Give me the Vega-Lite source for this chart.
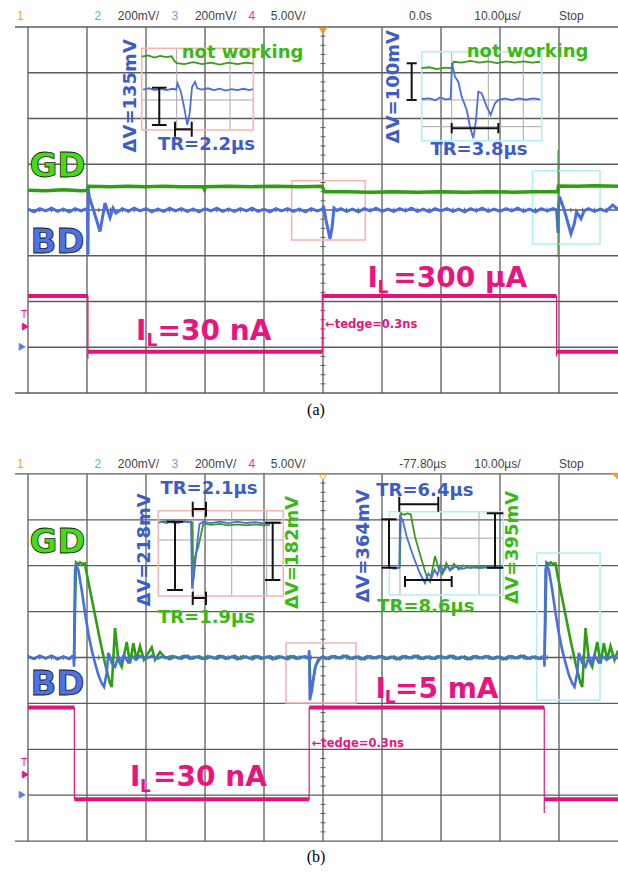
{
"$schema":"https://vega.github.io/schema/vega-lite/v6.json",
"width":618,"height":873,"padding":0,"autosize":"none","background":"white",
"config":{"view":{"stroke":null}},
"datasets":{
"vgrid":[{"t":-50},{"t":-40},{"t":-30},{"t":-20},{"t":-10},{"t":0},{"t":10},{"t":20},{"t":30},{"t":40}],
"hgrid":[{"v":-4,"t1":-52.2},{"v":-3,"t1":-50},{"v":-2,"t1":-50},{"v":-1,"t1":-50},{"v":0,"t1":-50},{"v":1,"t1":-50},{"v":2,"t1":-50},{"v":3,"t1":-50},{"v":4,"t1":-52.2}],
"ctv":[{"v":-3.8},{"v":-3.6},{"v":-3.4},{"v":-3.2},{"v":-2.8},{"v":-2.6},{"v":-2.4},{"v":-2.2},{"v":-1.8},{"v":-1.6},{"v":-1.4},{"v":-1.2},{"v":-0.8},{"v":-0.6},{"v":-0.4},{"v":-0.2},{"v":0.2},{"v":0.4},{"v":0.6},{"v":0.8},{"v":1.2},{"v":1.4},{"v":1.6},{"v":1.8},{"v":2.2},{"v":2.4},{"v":2.6},{"v":2.8},{"v":3.2},{"v":3.4},{"v":3.6},{"v":3.8}],
"cth":[{"t":-48},{"t":-46},{"t":-44},{"t":-42},{"t":-38},{"t":-36},{"t":-34},{"t":-32},{"t":-28},{"t":-26},{"t":-24},{"t":-22},{"t":-18},{"t":-16},{"t":-14},{"t":-12},{"t":-8},{"t":-6},{"t":-4},{"t":-2},{"t":2},{"t":4},{"t":6},{"t":8},{"t":12},{"t":14},{"t":16},{"t":18},{"t":22},{"t":24},{"t":26},{"t":28},{"t":32},{"t":34},{"t":36},{"t":38},{"t":42},{"t":44},{"t":46},{"t":48}],
"a_gd":[{"t":-50,"v":0.43},{"t":-47,"v":0.42},{"t":-44,"v":0.44},{"t":-41,"v":0.42},{"t":-39.86,"v":0.43},{"t":-39.8,"v":0.52},{"t":-36,"v":0.51},{"t":-33,"v":0.52},{"t":-30,"v":0.51},{"t":-27,"v":0.52},{"t":-24,"v":0.51},{"t":-20.3,"v":0.51},{"t":-20.1,"v":0.45},{"t":-19.9,"v":0.51},{"t":-16,"v":0.52},{"t":-12,"v":0.51},{"t":-8,"v":0.52},{"t":-4,"v":0.51},{"t":-0.15,"v":0.52},{"t":0.25,"v":0.4},{"t":4,"v":0.4},{"t":8,"v":0.39},{"t":12,"v":0.4},{"t":16,"v":0.39},{"t":20,"v":0.4},{"t":24,"v":0.39},{"t":28,"v":0.4},{"t":32,"v":0.39},{"t":36,"v":0.4},{"t":39.78,"v":0.4},{"t":39.9,"v":0.525},{"t":43,"v":0.52},{"t":46,"v":0.53},{"t":50,"v":0.52}],
"a_bd":[{"t":-50,"v":0.02},{"t":-49,"v":-0.04},{"t":-48,"v":0.03},{"t":-47,"v":-0.02},{"t":-46,"v":0.04},{"t":-45,"v":-0.03},{"t":-44,"v":0.02},{"t":-43,"v":-0.04},{"t":-42,"v":0.03},{"t":-41,"v":-0.02},{"t":-40.3,"v":0.02},{"t":-39.92,"v":0},{"t":-39.83,"v":-0.98},{"t":-39.78,"v":0.44},{"t":-39.61,"v":0.29},{"t":-38.64,"v":-0.11},{"t":-37.8,"v":-0.47},{"t":-36.95,"v":0.15},{"t":-36.1,"v":-0.17},{"t":-35.59,"v":0.04},{"t":-35.08,"v":-0.07},{"t":-34,"v":0.03},{"t":-33,"v":-0.03},{"t":-32,"v":0.04},{"t":-31,"v":-0.02},{"t":-30,"v":0.03},{"t":-29,"v":-0.04},{"t":-28,"v":0.02},{"t":-27,"v":-0.03},{"t":-26,"v":0.04},{"t":-25,"v":-0.02},{"t":-24,"v":0.03},{"t":-23,"v":-0.03},{"t":-22,"v":0.02},{"t":-21,"v":-0.04},{"t":-20,"v":0.03},{"t":-19,"v":-0.02},{"t":-18,"v":0.04},{"t":-17,"v":-0.03},{"t":-16,"v":0.02},{"t":-15,"v":-0.03},{"t":-14,"v":0.03},{"t":-13,"v":-0.02},{"t":-12,"v":0.04},{"t":-11,"v":-0.03},{"t":-10,"v":0.02},{"t":-9,"v":-0.04},{"t":-8,"v":0.03},{"t":-7,"v":-0.02},{"t":-6,"v":0.03},{"t":-5,"v":-0.03},{"t":-4,"v":0.02},{"t":-3,"v":-0.04},{"t":-2,"v":0.03},{"t":-1,"v":-0.02},{"t":-0.3,"v":0.01},{"t":-0.08,"v":0},{"t":0.08,"v":0.09},{"t":0.51,"v":-0.22},{"t":1.19,"v":-0.63},{"t":1.53,"v":-0.39},{"t":1.86,"v":0.04},{"t":2.37,"v":-0.01},{"t":3,"v":0.03},{"t":4,"v":-0.03},{"t":5,"v":0.02},{"t":6,"v":-0.04},{"t":7,"v":0.03},{"t":8,"v":-0.02},{"t":9,"v":0.04},{"t":10,"v":-0.03},{"t":11,"v":0.02},{"t":12,"v":-0.03},{"t":13,"v":0.03},{"t":14,"v":-0.02},{"t":15,"v":0.04},{"t":16,"v":-0.03},{"t":17,"v":0.02},{"t":18,"v":-0.04},{"t":19,"v":0.03},{"t":20,"v":-0.02},{"t":21,"v":0.03},{"t":22,"v":-0.03},{"t":23,"v":0.02},{"t":24,"v":-0.04},{"t":25,"v":0.03},{"t":26,"v":-0.02},{"t":27,"v":0.04},{"t":28,"v":-0.03},{"t":29,"v":0.02},{"t":30,"v":-0.03},{"t":31,"v":0.03},{"t":32,"v":-0.02},{"t":33,"v":0.04},{"t":34,"v":-0.03},{"t":35,"v":0.02},{"t":36,"v":-0.04},{"t":37,"v":0.03},{"t":38,"v":-0.02},{"t":39,"v":0.03},{"t":39.6,"v":0},{"t":39.84,"v":-0.5},{"t":39.88,"v":0},{"t":40.1,"v":0.29},{"t":40.9,"v":0},{"t":42.03,"v":-0.52},{"t":42.59,"v":-0.3},{"t":42.97,"v":-0.04},{"t":43.73,"v":-0.19},{"t":44.24,"v":-0.02},{"t":45,"v":0.03},{"t":46,"v":-0.03},{"t":47,"v":0.02},{"t":48,"v":-0.03},{"t":49.1,"v":0.11},{"t":50,"v":0.01}],
"a_ilh":[{"t1":-50,"t2":-39.84,"v":-1.88},{"t1":-39.84,"t2":-0.12,"v":-3.1},{"t1":-0.12,"t2":39.6,"v":-1.88},{"t1":39.6,"t2":50,"v":-3.1}],
"a_ile":[{"t":-39.84,"v1":-1.88,"v2":-3.25},{"t":-0.12,"v1":-3.1,"v2":-1.8},{"t":39.6,"v1":-1.88,"v2":-3.2}],
"a_glitch":[{"t":39.83,"v1":1.31,"v2":-1.03}],
"a_igd":[{"inset":1,"t":-30.73,"v":3.35},{"inset":1,"t":-29.6,"v":3.38},{"inset":1,"t":-28.6,"v":3.33},{"inset":1,"t":-27.6,"v":3.37},{"inset":1,"t":-26.6,"v":3.34},{"inset":1,"t":-25.64,"v":3.36},{"inset":1,"t":-25.2,"v":3.26},{"inset":1,"t":-24.8,"v":3.21},{"inset":1,"t":-23.5,"v":3.19},{"inset":1,"t":-22,"v":3.23},{"inset":1,"t":-20.5,"v":3.19},{"inset":1,"t":-19,"v":3.22},{"inset":1,"t":-17.5,"v":3.18},{"inset":1,"t":-16,"v":3.22},{"inset":1,"t":-14.5,"v":3.19},{"inset":1,"t":-13,"v":3.22},{"inset":1,"t":-11.81,"v":3.2},
{"inset":2,"t":16.73,"v":3.1},{"inset":2,"t":18,"v":3.12},{"inset":2,"t":19.3,"v":3.08},{"inset":2,"t":20.6,"v":3.11},{"inset":2,"t":21.7,"v":3.1},{"inset":2,"t":22.15,"v":3.24},{"inset":2,"t":23.5,"v":3.22},{"inset":2,"t":25,"v":3.26},{"inset":2,"t":26.5,"v":3.22},{"inset":2,"t":28,"v":3.25},{"inset":2,"t":29.5,"v":3.21},{"inset":2,"t":31,"v":3.25},{"inset":2,"t":32.5,"v":3.22},{"inset":2,"t":34,"v":3.25},{"inset":2,"t":35.5,"v":3.22},{"inset":2,"t":36.78,"v":3.24}],
"a_ibd":[{"inset":1,"t":-30.5,"v":2.63},{"inset":1,"t":-29.5,"v":2.66},{"inset":1,"t":-28.5,"v":2.62},{"inset":1,"t":-27.5,"v":2.65},{"inset":1,"t":-26.5,"v":2.62},{"inset":1,"t":-25.5,"v":2.65},{"inset":1,"t":-24.9,"v":2.63},{"inset":1,"t":-24.66,"v":2.77},{"inset":1,"t":-24.1,"v":2.59},{"inset":1,"t":-23.5,"v":2.22},{"inset":1,"t":-23,"v":1.86},{"inset":1,"t":-22.6,"v":2.11},{"inset":1,"t":-22.2,"v":2.69},{"inset":1,"t":-21.69,"v":2.8},{"inset":1,"t":-21.3,"v":2.66},{"inset":1,"t":-20.5,"v":2.63},{"inset":1,"t":-19.5,"v":2.66},{"inset":1,"t":-18.5,"v":2.62},{"inset":1,"t":-17.5,"v":2.65},{"inset":1,"t":-16.5,"v":2.61},{"inset":1,"t":-15.5,"v":2.64},{"inset":1,"t":-14.5,"v":2.62},{"inset":1,"t":-13.5,"v":2.65},{"inset":1,"t":-12.5,"v":2.62},{"inset":1,"t":-11.9,"v":2.64},
{"inset":2,"t":16.73,"v":2.426},{"inset":2,"t":18,"v":2.44},{"inset":2,"t":19,"v":2.4},{"inset":2,"t":19.83,"v":2.46},{"inset":2,"t":20.8,"v":2.42},{"inset":2,"t":21.63,"v":2.426},{"inset":2,"t":21.86,"v":3.207},{"inset":2,"t":22.37,"v":2.914},{"inset":2,"t":22.93,"v":2.804},{"inset":2,"t":23.51,"v":2.477},{"inset":2,"t":24.36,"v":2.186},{"inset":2,"t":24.92,"v":1.821},{"inset":2,"t":25.47,"v":1.567},{"inset":2,"t":25.93,"v":1.967},{"inset":2,"t":26.32,"v":2.586},{"inset":2,"t":26.9,"v":2.551},{"inset":2,"t":27.75,"v":2.258},{"inset":2,"t":28.42,"v":2.077},{"inset":2,"t":29.15,"v":2.332},{"inset":2,"t":29.71,"v":2.404},{"inset":2,"t":30.8,"v":2.44},{"inset":2,"t":32,"v":2.4},{"inset":2,"t":33.2,"v":2.44},{"inset":2,"t":34.4,"v":2.41},{"inset":2,"t":35.6,"v":2.44},{"inset":2,"t":36.78,"v":2.42}],
"a_bars":[{"t1":-27.75,"v1":2.673,"t2":-27.75,"v2":1.858},{"t1":-29,"v1":2.673,"t2":-26.5,"v2":2.673},{"t1":-29,"v1":1.858,"t2":-26.5,"v2":1.858},{"t1":-25.08,"v1":1.764,"t2":-22.25,"v2":1.764},{"t1":-25.08,"v1":1.93,"t2":-25.08,"v2":1.6},{"t1":-22.25,"v1":1.93,"t2":-22.25,"v2":1.6},{"t1":15.03,"v1":3.207,"t2":15.03,"v2":2.404},{"t1":14.18,"v1":3.207,"t2":15.88,"v2":3.207},{"t1":14.18,"v1":2.404,"t2":15.88,"v2":2.404},{"t1":21.81,"v1":1.786,"t2":29.71,"v2":1.786},{"t1":21.81,"v1":1.902,"t2":21.81,"v2":1.677},{"t1":29.71,"v1":1.902,"t2":29.71,"v2":1.677}],
"a_inner":[{"t1":-24.8,"v1":3.534,"t2":-24.8,"v2":1.749},{"t1":-15.76,"v1":3.534,"t2":-15.76,"v2":1.749},{"t1":-30.73,"v1":2.404,"t2":-11.81,"v2":2.404},{"t1":21.81,"v1":3.46,"t2":21.81,"v2":1.515},{"t1":28.02,"v1":3.46,"t2":28.02,"v2":1.515},{"t1":33.95,"v1":3.46,"t2":33.95,"v2":1.515},{"t1":16.73,"v1":2.404,"t2":37.07,"v2":2.404},{"t1":16.73,"v1":1.821,"t2":37.07,"v2":1.821}],
"a_boxes":[{"inset":1,"t1":-30.73,"v1":3.534,"t2":-11.81,"v2":1.749},{"inset":1,"t1":-5.31,"v1":0.64,"t2":7.17,"v2":-0.656},{"inset":2,"t1":16.73,"v1":3.46,"t2":37.07,"v2":1.515},{"inset":2,"t1":35.51,"v1":0.859,"t2":46.95,"v2":-0.743}],
"a_lbl":[{"ch":"GD","text":"GD","t":-45,"v":0.93},{"ch":"BD","text":"BD","t":-45,"v":-0.73}],
"a_ilbig":[{"text":"I","t":-31.69,"v":-2.842},{"text":"=30 nA","t":-28.03,"v":-2.842},{"text":"I","t":7.54,"v":-1.677},{"text":"=300 µA","t":11.92,"v":-1.677}],
"a_ilsub":[{"text":"L","t":-29.9,"v":-2.973},{"text":"L","t":9.24,"v":-1.821}],
"a_tr":[{"ch":"BD","text":"TR=2.2µs","t":-19.75,"v":1.421},{"ch":"BD","text":"TR=3.8µs","t":26.44,"v":1.311}],
"a_nw":[{"text":"not working","t":-23.95,"v":3.425},{"text":"not working","t":24.36,"v":3.46}],
"a_rot":[{"ch":"BD","text":"ΔV=135mV","t":-32.49,"v":2.496},{"ch":"BD","text":"ΔV=100mV","t":12.03,"v":2.695}],
"a_tedge":[{"text":"←tedge=0.3ns","t":0.34,"v":-2.514}],
"a_head":[{"c":"1","text":"1","t":-51.86,"v":4.24},{"c":"2","text":"2","t":-38.73,"v":4.24},{"c":"x","text":"200mV/","t":-34.78,"v":4.24},{"c":"3","text":"3","t":-25.68,"v":4.24},{"c":"x","text":"200mV/","t":-21.71,"v":4.24},{"c":"4","text":"4","t":-12.63,"v":4.24},{"c":"x","text":"5.00V/","t":-8.85,"v":4.24},{"c":"x","text":"0.0s","t":14.58,"v":4.24},{"c":"x","text":"10.00µs/","t":25.64,"v":4.24},{"c":"x","text":"Stop","t":40,"v":4.24}],
"a_cap":[{"text":"(a)","t":-1.19,"v":-4.372}],
"a_T":[{"text":"T","t":-50.68,"v":-2.3}],
"a_mk":[{"m":"trig","t":0,"v":3.91},{"m":"T","t":-50.46,"v":-2.55},{"m":"gnd","t":-51,"v":-2.99}],
"b_gd":[{"t":-50,"v":0.02},{"t":-49,"v":-0.03},{"t":-48,"v":0.03},{"t":-47,"v":-0.02},{"t":-46,"v":0.04},{"t":-45,"v":-0.03},{"t":-44,"v":0.02},{"t":-43,"v":-0.03},{"t":-42.5,"v":0.02},{"t":-42.2,"v":0},{"t":-41.86,"v":2.07},{"t":-41.5,"v":2.03},{"t":-41.19,"v":2.07},{"t":-40.8,"v":2.04},{"t":-40.34,"v":2.05},{"t":-40.05,"v":1.83},{"t":-38.93,"v":1.11},{"t":-37.8,"v":0.38},{"t":-36.95,"v":-0.13},{"t":-36.1,"v":-0.56},{"t":-35.81,"v":-0.64},{"t":-35.25,"v":0.64},{"t":-34.69,"v":-0.05},{"t":-34.12,"v":-0.2},{"t":-33.27,"v":0.34},{"t":-32.71,"v":-0.13},{"t":-32.15,"v":0.31},{"t":-31.58,"v":-0.05},{"t":-31.02,"v":0.25},{"t":-30.34,"v":-0.05},{"t":-29.03,"v":0.22},{"t":-28.47,"v":-0.05},{"t":-27.63,"v":0.12},{"t":-26.78,"v":-0.01},{"t":-25.5,"v":0.03},{"t":-24.5,"v":-0.02},{"t":-23.5,"v":0.04},{"t":-22.5,"v":-0.03},{"t":-21.5,"v":0.02},{"t":-20.5,"v":-0.03},{"t":-19.5,"v":0.03},{"t":-18.5,"v":-0.02},{"t":-17.5,"v":0.04},{"t":-16.5,"v":-0.03},{"t":-15.5,"v":0.02},{"t":-14.5,"v":-0.04},{"t":-13.5,"v":0.03},{"t":-12.5,"v":-0.02},{"t":-11.5,"v":0.03},{"t":-10.5,"v":-0.03},{"t":-9.5,"v":0.02},{"t":-8.5,"v":-0.04},{"t":-7.5,"v":0.03},{"t":-6.5,"v":-0.02},{"t":-5.5,"v":0.03},{"t":-4.5,"v":-0.03},{"t":-3.5,"v":0.02},{"t":-2.6,"v":-0.02},{"t":-2.29,"v":0},{"t":-2.12,"v":-0.75},{"t":-1.69,"v":-0.49},{"t":-1.19,"v":-0.16},{"t":-0.51,"v":-0.03},{"t":0,"v":0.02},{"t":1,"v":-0.03},{"t":2,"v":0.03},{"t":3,"v":-0.02},{"t":4,"v":0.04},{"t":5,"v":-0.03},{"t":6,"v":0.02},{"t":7,"v":-0.04},{"t":8,"v":0.03},{"t":9,"v":-0.02},{"t":10,"v":0.03},{"t":11,"v":-0.03},{"t":12,"v":0.02},{"t":13,"v":-0.04},{"t":14,"v":0.03},{"t":15,"v":-0.02},{"t":16,"v":0.04},{"t":17,"v":-0.03},{"t":18,"v":0.02},{"t":19,"v":-0.03},{"t":20,"v":0.03},{"t":21,"v":-0.02},{"t":22,"v":0.04},{"t":23,"v":-0.03},{"t":24,"v":0.02},{"t":25,"v":-0.04},{"t":26,"v":0.03},{"t":27,"v":-0.02},{"t":28,"v":0.03},{"t":29,"v":-0.03},{"t":30,"v":0.02},{"t":31,"v":-0.04},{"t":32,"v":0.03},{"t":33,"v":-0.02},{"t":34,"v":0.04},{"t":35,"v":-0.03},{"t":36,"v":0.02},{"t":37,"v":-0.03},{"t":37.4,"v":0.01},{"t":37.55,"v":0},{"t":37.89,"v":2.07},{"t":38.3,"v":2.03},{"t":38.56,"v":2.07},{"t":39,"v":2.04},{"t":39.41,"v":2.05},{"t":39.7,"v":1.83},{"t":40.82,"v":1.11},{"t":41.95,"v":0.38},{"t":42.8,"v":-0.13},{"t":43.65,"v":-0.56},{"t":43.94,"v":-0.64},{"t":44.5,"v":0.64},{"t":45.06,"v":-0.05},{"t":45.63,"v":-0.2},{"t":46.48,"v":0.34},{"t":47.04,"v":-0.13},{"t":47.6,"v":0.31},{"t":48.17,"v":-0.05},{"t":48.73,"v":0.25},{"t":49.41,"v":-0.05},{"t":50,"v":0.15}],
"b_bd":[{"t":-50,"v":0.03},{"t":-49,"v":-0.03},{"t":-48,"v":0.04},{"t":-47,"v":-0.02},{"t":-46,"v":0.03},{"t":-45,"v":-0.04},{"t":-44,"v":0.02},{"t":-43,"v":-0.03},{"t":-42.6,"v":0.02},{"t":-42.29,"v":0},{"t":-42.2,"v":-0.2},{"t":-42.03,"v":1.91},{"t":-41.86,"v":2.02},{"t":-41.47,"v":1.91},{"t":-40.9,"v":1.47},{"t":-40.34,"v":0.97},{"t":-39.78,"v":0.53},{"t":-39.2,"v":0.16},{"t":-38.64,"v":-0.12},{"t":-38.08,"v":-0.38},{"t":-37.51,"v":-0.56},{"t":-37.12,"v":-0.64},{"t":-36.66,"v":-0.34},{"t":-36.39,"v":0.1},{"t":-35.81,"v":-0.12},{"t":-35.25,"v":-0.2},{"t":-34.69,"v":0.02},{"t":-34.29,"v":-0.12},{"t":-33.73,"v":0.05},{"t":-33.05,"v":-0.1},{"t":-32.37,"v":0.03},{"t":-31.69,"v":-0.05},{"t":-31,"v":0.03},{"t":-30,"v":-0.03},{"t":-29,"v":0.04},{"t":-28,"v":-0.02},{"t":-27,"v":0.03},{"t":-26,"v":-0.04},{"t":-25,"v":0.02},{"t":-24,"v":-0.03},{"t":-23,"v":0.04},{"t":-22,"v":-0.02},{"t":-21,"v":0.03},{"t":-20,"v":-0.04},{"t":-19,"v":0.02},{"t":-18,"v":-0.03},{"t":-17,"v":0.03},{"t":-16,"v":-0.02},{"t":-15,"v":0.04},{"t":-14,"v":-0.03},{"t":-13,"v":0.02},{"t":-12,"v":-0.04},{"t":-11,"v":0.03},{"t":-10,"v":-0.02},{"t":-9,"v":0.03},{"t":-8,"v":-0.03},{"t":-7,"v":0.02},{"t":-6,"v":-0.04},{"t":-5,"v":0.03},{"t":-4,"v":-0.02},{"t":-3,"v":0.03},{"t":-2.6,"v":-0.01},{"t":-2.46,"v":0},{"t":-2.32,"v":0.16},{"t":-2.24,"v":-0.93},{"t":-1.86,"v":-0.71},{"t":-1.36,"v":-0.23},{"t":-0.85,"v":-0.05},{"t":-0.17,"v":0.01},{"t":0.5,"v":-0.03},{"t":1.5,"v":0.03},{"t":2.5,"v":-0.02},{"t":3.5,"v":0.04},{"t":4.5,"v":-0.03},{"t":5.5,"v":0.02},{"t":6.5,"v":-0.04},{"t":7.5,"v":0.03},{"t":8.5,"v":-0.02},{"t":9.5,"v":0.03},{"t":10.5,"v":-0.03},{"t":11.5,"v":0.02},{"t":12.5,"v":-0.04},{"t":13.5,"v":0.03},{"t":14.5,"v":-0.02},{"t":15.5,"v":0.04},{"t":16.5,"v":-0.03},{"t":17.5,"v":0.02},{"t":18.5,"v":-0.03},{"t":19.5,"v":0.03},{"t":20.5,"v":-0.02},{"t":21.5,"v":0.04},{"t":22.5,"v":-0.03},{"t":23.5,"v":0.02},{"t":24.5,"v":-0.04},{"t":25.5,"v":0.03},{"t":26.5,"v":-0.02},{"t":27.5,"v":0.03},{"t":28.5,"v":-0.03},{"t":29.5,"v":0.02},{"t":30.5,"v":-0.04},{"t":31.5,"v":0.03},{"t":32.5,"v":-0.02},{"t":33.5,"v":0.04},{"t":34.5,"v":-0.03},{"t":35.5,"v":0.02},{"t":36.5,"v":-0.03},{"t":37.2,"v":0.02},{"t":37.46,"v":0},{"t":37.55,"v":-0.2},{"t":37.72,"v":1.91},{"t":37.89,"v":2.02},{"t":38.28,"v":1.91},{"t":38.85,"v":1.47},{"t":39.41,"v":0.97},{"t":39.97,"v":0.53},{"t":40.55,"v":0.16},{"t":41.11,"v":-0.12},{"t":41.67,"v":-0.38},{"t":42.24,"v":-0.56},{"t":42.63,"v":-0.64},{"t":43.09,"v":-0.34},{"t":43.36,"v":0.1},{"t":43.94,"v":-0.12},{"t":44.5,"v":-0.2},{"t":45.06,"v":0.02},{"t":45.46,"v":-0.12},{"t":46.02,"v":0.05},{"t":46.7,"v":-0.1},{"t":47.38,"v":0.03},{"t":48.06,"v":-0.05},{"t":49,"v":0.03},{"t":50,"v":-0.02}],
"b_ilh":[{"t1":-50,"t2":-42.14,"v":-1.09},{"t1":-42.14,"t2":-2.34,"v":-3.09},{"t1":-2.34,"t2":37.5,"v":-1.09},{"t1":37.5,"t2":50,"v":-3.09}],
"b_ile":[{"t":-42.14,"v1":-1.09,"v2":-3.09},{"t":-2.34,"v1":-3.09,"v2":-1.09},{"t":37.5,"v1":-1.09,"v2":-3.39}],
"b_igd":[{"inset":1,"t":-27.9,"v":2.94},{"inset":1,"t":-26.5,"v":2.97},{"inset":1,"t":-25,"v":2.93},{"inset":1,"t":-23.5,"v":2.96},{"inset":1,"t":-22.2,"v":2.94},{"inset":1,"t":-21.98,"v":1.7},{"inset":1,"t":-21.69,"v":2.2},{"inset":1,"t":-21.14,"v":2.41},{"inset":1,"t":-20.29,"v":2.92},{"inset":1,"t":-19,"v":2.89},{"inset":1,"t":-17.5,"v":2.91},{"inset":1,"t":-16,"v":2.88},{"inset":1,"t":-14.5,"v":2.9},{"inset":1,"t":-13,"v":2.88},{"inset":1,"t":-11.5,"v":2.9},{"inset":1,"t":-10,"v":2.88},{"inset":1,"t":-9,"v":2.89},
{"inset":2,"t":11.3,"v":1.96},{"inset":2,"t":12.3,"v":1.94},{"inset":2,"t":13,"v":1.96},{"inset":2,"t":13.22,"v":3.14},{"inset":2,"t":13.8,"v":3.11},{"inset":2,"t":14.3,"v":3.14},{"inset":2,"t":14.86,"v":3.12},{"inset":2,"t":15.59,"v":2.63},{"inset":2,"t":16.73,"v":2.12},{"inset":2,"t":17.58,"v":1.76},{"inset":2,"t":18.14,"v":1.65},{"inset":2,"t":18.98,"v":2.21},{"inset":2,"t":19.6,"v":1.93},{"inset":2,"t":20.2,"v":1.82},{"inset":2,"t":20.9,"v":2.06},{"inset":2,"t":21.5,"v":1.9},{"inset":2,"t":22.2,"v":2.04},{"inset":2,"t":23,"v":1.92},{"inset":2,"t":23.8,"v":2.01},{"inset":2,"t":24.92,"v":1.95},{"inset":2,"t":26.61,"v":1.99},{"inset":2,"t":28.31,"v":1.95},{"inset":2,"t":30.51,"v":1.97}],
"b_ibd":[{"inset":1,"t":-27.5,"v":2.96},{"inset":1,"t":-26.5,"v":2.93},{"inset":1,"t":-25.5,"v":2.97},{"inset":1,"t":-24.5,"v":2.94},{"inset":1,"t":-23.5,"v":2.97},{"inset":1,"t":-22.6,"v":2.95},{"inset":1,"t":-22.37,"v":2.96},{"inset":1,"t":-22.2,"v":1.5},{"inset":1,"t":-21.86,"v":1.8},{"inset":1,"t":-21.36,"v":2.45},{"inset":1,"t":-20.93,"v":2.91},{"inset":1,"t":-20.3,"v":2.96},{"inset":1,"t":-19,"v":2.93},{"inset":1,"t":-17.5,"v":2.96},{"inset":1,"t":-16,"v":2.93},{"inset":1,"t":-14.5,"v":2.96},{"inset":1,"t":-13,"v":2.93},{"inset":1,"t":-11.5,"v":2.95},{"inset":1,"t":-10,"v":2.92},{"inset":1,"t":-8.5,"v":2.94},{"inset":1,"t":-7,"v":2.93},
{"inset":2,"t":11.3,"v":1.96},{"inset":2,"t":12.1,"v":1.94},{"inset":2,"t":12.93,"v":1.96},{"inset":2,"t":13.05,"v":3.07},{"inset":2,"t":13.5,"v":3},{"inset":2,"t":14.19,"v":2.63},{"inset":2,"t":15.31,"v":2.2},{"inset":2,"t":16.44,"v":1.83},{"inset":2,"t":17.29,"v":1.62},{"inset":2,"t":17.85,"v":1.83},{"inset":2,"t":18.4,"v":1.74},{"inset":2,"t":18.9,"v":1.91},{"inset":2,"t":19.4,"v":1.8},{"inset":2,"t":19.9,"v":2.02},{"inset":2,"t":20.4,"v":1.86},{"inset":2,"t":21,"v":1.99},{"inset":2,"t":21.7,"v":1.91},{"inset":2,"t":22.5,"v":1.99},{"inset":2,"t":23.5,"v":1.93},{"inset":2,"t":24.9,"v":1.97},{"inset":2,"t":26.6,"v":1.95},{"inset":2,"t":28.3,"v":1.97},{"inset":2,"t":30.5,"v":1.96}],
"b_bars":[{"t1":-25.08,"v1":2.959,"t2":-25.08,"v2":1.471},{"t1":-26.43,"v1":2.959,"t2":-23.73,"v2":2.959},{"t1":-26.43,"v1":1.471,"t2":-23.73,"v2":1.471},{"t1":-8.53,"v1":2.937,"t2":-8.53,"v2":1.688},{"t1":-9.83,"v1":2.937,"t2":-7.23,"v2":2.937},{"t1":-9.83,"v1":1.688,"t2":-7.23,"v2":1.688},{"t1":-22.08,"v1":3.235,"t2":-19.83,"v2":3.235},{"t1":-22.08,"v1":3.394,"t2":-22.08,"v2":3.068},{"t1":-19.83,"v1":3.394,"t2":-19.83,"v2":3.068},{"t1":-22.08,"v1":1.296,"t2":-19.83,"v2":1.296},{"t1":-22.08,"v1":1.434,"t2":-22.08,"v2":1.144},{"t1":-19.83,"v1":1.434,"t2":-19.83,"v2":1.144},{"t1":11.19,"v1":3.011,"t2":11.19,"v2":1.956},{"t1":9.92,"v1":3.011,"t2":12.46,"v2":3.011},{"t1":9.92,"v1":1.956,"t2":12.46,"v2":1.956},{"t1":29.15,"v1":3.142,"t2":29.15,"v2":1.956},{"t1":27.75,"v1":3.142,"t2":30.55,"v2":3.142},{"t1":27.75,"v1":1.956,"t2":30.55,"v2":1.956},{"t1":12.93,"v1":3.338,"t2":19.54,"v2":3.338},{"t1":12.93,"v1":3.503,"t2":12.93,"v2":3.176},{"t1":19.54,"v1":3.503,"t2":19.54,"v2":3.176},{"t1":13.9,"v1":1.688,"t2":21.81,"v2":1.688},{"t1":13.9,"v1":1.776,"t2":13.9,"v2":1.536},{"t1":21.81,"v1":1.776,"t2":21.81,"v2":1.536}],
"b_inner":[{"t1":-21.98,"v1":3.198,"t2":-21.98,"v2":1.34},{"t1":-15.47,"v1":3.198,"t2":-15.47,"v2":1.34},{"t1":-9.54,"v1":3.198,"t2":-9.54,"v2":1.34},{"t1":-27.92,"v1":2.56,"t2":-6.73,"v2":2.56},{"t1":13.05,"v1":3.176,"t2":13.05,"v2":1.362},{"t1":26.44,"v1":3.176,"t2":26.44,"v2":1.362},{"t1":11.24,"v1":2.6,"t2":30.56,"v2":2.6}],
"b_boxes":[{"inset":1,"t1":-27.92,"v1":3.198,"t2":-6.73,"v2":1.34},{"inset":1,"t1":-6.27,"v1":0.316,"t2":5.59,"v2":-0.991},{"inset":2,"t1":11.24,"v1":3.176,"t2":30.56,"v2":1.362},{"inset":2,"t1":36.22,"v1":2.277,"t2":46.95,"v2":-0.926}],
"b_lbl":[{"ch":"GD","text":"GD","t":-45,"v":2.5},{"ch":"BD","text":"BD","t":-45,"v":-0.6}],
"b_ilbig":[{"text":"I","t":-32.71,"v":-2.8},{"text":"=30 nA","t":-28.81,"v":-2.8},{"text":"I","t":8.9,"v":-0.889},{"text":"=5 mA","t":12.2,"v":-0.889}],
"b_ilsub":[{"text":"L","t":-31.02,"v":-2.93},{"text":"L","t":10.46,"v":-1.002}],
"b_tr":[{"ch":"BD","text":"TR=2.1µs","t":-19.32,"v":3.671},{"ch":"GD","text":"TR=1.9µs","t":-19.75,"v":0.861},{"ch":"BD","text":"TR=6.4µs","t":17.26,"v":3.634},{"ch":"GD","text":"TR=8.6µs","t":17.43,"v":1.107}],
"b_rot":[{"ch":"BD","text":"ΔV=218mV","t":-30.17,"v":2.342},{"ch":"GD","text":"ΔV=182mV","t":-5.03,"v":2.288},{"ch":"BD","text":"ΔV=364mV","t":6.95,"v":2.43},{"ch":"GD","text":"ΔV=395mV","t":32.25,"v":2.4}],
"b_tedge":[{"text":"←tedge=0.3ns","t":-1.92,"v":-1.885}],
"b_head":[{"c":"1","text":"1","t":-51.86,"v":4.216},{"c":"2","text":"2","t":-38.73,"v":4.216},{"c":"x","text":"200mV/","t":-34.78,"v":4.216},{"c":"3","text":"3","t":-25.68,"v":4.216},{"c":"x","text":"200mV/","t":-21.71,"v":4.216},{"c":"4","text":"4","t":-12.63,"v":4.216},{"c":"x","text":"5.00V/","t":-8.85,"v":4.216},{"c":"x","text":"-77.80µs","t":12.92,"v":4.216},{"c":"x","text":"10.00µs/","t":25.64,"v":4.216},{"c":"x","text":"Stop","t":40,"v":4.216}],
"b_cap":[{"text":"(b)","t":-1.19,"v":-4.346}],
"b_T":[{"text":"T","t":-50.68,"v":-2.3}],
"b_mk":[{"m":"trigo","t":0,"v":3.92},{"m":"corner","t":49.55,"v":3.94},{"m":"T","t":-50.46,"v":-2.55},{"m":"gnd","t":-51,"v":-2.99}]
},
"layer":[
{"layer":[
{"data":{"name":"vgrid"},"mark":{"type":"rule","color":"#5c5c5c","strokeWidth":1.3},"encoding":{"x":{"field":"t","type":"quantitative","scale":{"domain":[-54.746,50],"nice":false,"zero":false},"axis":null},"y":{"datum":-4,"type":"quantitative","scale":{"domain":[-14.492,4.59],"nice":false,"zero":false},"axis":null},"y2":{"datum":4}}},
{"data":{"name":"hgrid"},"mark":{"type":"rule","color":"#5c5c5c","strokeWidth":1.3},"encoding":{"x":{"field":"t1","type":"quantitative","scale":{"domain":[-54.746,50],"nice":false,"zero":false},"axis":null},"x2":{"datum":50},"y":{"field":"v","type":"quantitative","scale":{"domain":[-14.492,4.59],"nice":false,"zero":false},"axis":null}}},
{"data":{"name":"ctv"},"mark":{"type":"rule","color":"#5c5c5c","strokeWidth":1},"encoding":{"x":{"datum":-0.42,"type":"quantitative","scale":{"domain":[-54.746,50],"nice":false,"zero":false},"axis":null},"x2":{"datum":0.42},"y":{"field":"v","type":"quantitative","scale":{"domain":[-14.492,4.59],"nice":false,"zero":false},"axis":null}}},
{"data":{"name":"cth"},"mark":{"type":"rule","color":"#5c5c5c","strokeWidth":1},"encoding":{"x":{"field":"t","type":"quantitative","scale":{"domain":[-54.746,50],"nice":false,"zero":false},"axis":null},"y":{"datum":-0.05,"type":"quantitative","scale":{"domain":[-14.492,4.59],"nice":false,"zero":false},"axis":null},"y2":{"datum":0.05}}},
{"data":{"name":"a_inner"},"mark":{"type":"rule","color":"#a8a8a8","strokeWidth":1},"encoding":{"x":{"field":"t1","type":"quantitative","axis":null},"x2":{"field":"t2"},"y":{"field":"v1","type":"quantitative","axis":null},"y2":{"field":"v2"}}},
{"data":{"name":"a_boxes"},"mark":{"type":"rect","fill":"transparent","strokeWidth":1.6},"encoding":{"x":{"field":"t1","type":"quantitative","axis":null},"x2":{"field":"t2"},"y":{"field":"v1","type":"quantitative","axis":null},"y2":{"field":"v2"},"stroke":{"field":"inset","type":"nominal","scale":{"domain":[1,2],"range":["#f8b4b4","#aef0f6"]},"legend":null}}},
{"data":{"name":"a_ilh"},"mark":{"type":"rule","color":"#e0157a","strokeWidth":4},"encoding":{"x":{"field":"t1","type":"quantitative","axis":null},"x2":{"field":"t2"},"y":{"field":"v","type":"quantitative","axis":null}}},
{"data":{"name":"a_ile"},"mark":{"type":"rule","color":"#e0157a","strokeWidth":1.2},"encoding":{"x":{"field":"t","type":"quantitative","axis":null},"y":{"field":"v1","type":"quantitative","axis":null},"y2":{"field":"v2"}}},
{"data":{"name":"a_gd"},"mark":{"type":"line","color":"#2e9e12","strokeWidth":3.5},"encoding":{"x":{"field":"t","type":"quantitative","axis":null},"y":{"field":"v","type":"quantitative","axis":null}}},
{"data":{"name":"a_bd"},"mark":{"type":"line","color":"#4a6ee0","strokeWidth":3},"encoding":{"x":{"field":"t","type":"quantitative","axis":null},"y":{"field":"v","type":"quantitative","axis":null}}},
{"data":{"name":"a_glitch"},"mark":{"type":"rule","color":"#2e9e12","strokeWidth":1},"encoding":{"x":{"field":"t","type":"quantitative","axis":null},"y":{"field":"v1","type":"quantitative","axis":null},"y2":{"field":"v2"}}},
{"data":{"name":"a_igd"},"mark":{"type":"line","color":"#3a9a1a","strokeWidth":1.8},"encoding":{"x":{"field":"t","type":"quantitative","axis":null},"y":{"field":"v","type":"quantitative","axis":null},"detail":{"field":"inset","type":"nominal"}}},
{"data":{"name":"a_ibd"},"mark":{"type":"line","color":"#4a6ee0","strokeWidth":1.8},"encoding":{"x":{"field":"t","type":"quantitative","axis":null},"y":{"field":"v","type":"quantitative","axis":null},"detail":{"field":"inset","type":"nominal"}}},
{"data":{"name":"a_bars"},"mark":{"type":"rule","color":"#111111","strokeWidth":2},"encoding":{"x":{"field":"t1","type":"quantitative","axis":null},"x2":{"field":"t2"},"y":{"field":"v1","type":"quantitative","axis":null},"y2":{"field":"v2"}}},
{"data":{"name":"a_lbl"},"mark":{"type":"text","font":"DejaVu Sans","fontWeight":"bold","fontSize":34,"align":"center","baseline":"middle","stroke":"#1a1a1a","strokeWidth":0.8},"encoding":{"x":{"field":"t","type":"quantitative","axis":null},"y":{"field":"v","type":"quantitative","axis":null},"text":{"field":"text"},"color":{"field":"ch","type":"nominal","scale":{"domain":["GD","BD"],"range":["#44dd14","#5070e4"]},"legend":null}}},
{"data":{"name":"a_ilbig"},"mark":{"type":"text","font":"DejaVu Sans","fontWeight":"bold","fontSize":28,"align":"left","baseline":"alphabetic","color":"#e8157f"},"encoding":{"x":{"field":"t","type":"quantitative","axis":null},"y":{"field":"v","type":"quantitative","axis":null},"text":{"field":"text"}}},
{"data":{"name":"a_ilsub"},"mark":{"type":"text","font":"DejaVu Sans","fontWeight":"bold","fontSize":17,"align":"left","baseline":"alphabetic","color":"#e8157f"},"encoding":{"x":{"field":"t","type":"quantitative","axis":null},"y":{"field":"v","type":"quantitative","axis":null},"text":{"field":"text"}}},
{"data":{"name":"a_tr"},"mark":{"type":"text","font":"DejaVu Sans","fontWeight":"bold","fontSize":18,"align":"center","baseline":"middle"},"encoding":{"x":{"field":"t","type":"quantitative","axis":null},"y":{"field":"v","type":"quantitative","axis":null},"text":{"field":"text"},"color":{"field":"ch","type":"nominal","scale":{"domain":["GD","BD"],"range":["#3cb814","#3d5cc8"]},"legend":null}}},
{"data":{"name":"a_nw"},"mark":{"type":"text","font":"DejaVu Sans","fontWeight":"bold","fontSize":18,"align":"left","baseline":"middle","color":"#3cb814"},"encoding":{"x":{"field":"t","type":"quantitative","axis":null},"y":{"field":"v","type":"quantitative","axis":null},"text":{"field":"text"}}},
{"data":{"name":"a_rot"},"mark":{"type":"text","font":"DejaVu Sans","fontWeight":"bold","fontSize":18,"align":"center","baseline":"middle","angle":270},"encoding":{"x":{"field":"t","type":"quantitative","axis":null},"y":{"field":"v","type":"quantitative","axis":null},"text":{"field":"text"},"color":{"field":"ch","type":"nominal","scale":{"domain":["GD","BD"],"range":["#3cb814","#3d5cc8"]},"legend":null}}},
{"data":{"name":"a_tedge"},"mark":{"type":"text","font":"DejaVu Sans","fontWeight":"bold","fontSize":11.5,"align":"left","baseline":"middle","color":"#e8157f"},"encoding":{"x":{"field":"t","type":"quantitative","axis":null},"y":{"field":"v","type":"quantitative","axis":null},"text":{"field":"text"}}},
{"data":{"name":"a_head"},"mark":{"type":"text","font":"Liberation Sans","fontSize":12,"align":"left","baseline":"middle"},"encoding":{"x":{"field":"t","type":"quantitative","axis":null},"y":{"field":"v","type":"quantitative","axis":null},"text":{"field":"text"},"color":{"field":"c","type":"nominal","scale":{"domain":["1","2","3","4","x"],"range":["#f0a040","#66cc44","#7799ee","#ee3399","#444444"]},"legend":null}}},
{"data":{"name":"a_cap"},"mark":{"type":"text","font":"Liberation Serif","fontSize":16,"align":"center","baseline":"middle","color":"#000000"},"encoding":{"x":{"field":"t","type":"quantitative","axis":null},"y":{"field":"v","type":"quantitative","axis":null},"text":{"field":"text"}}},
{"data":{"name":"a_T"},"mark":{"type":"text","font":"DejaVu Sans","fontSize":10,"align":"center","baseline":"middle","color":"#e8157f"},"encoding":{"x":{"field":"t","type":"quantitative","axis":null},"y":{"field":"v","type":"quantitative","axis":null},"text":{"field":"text"}}},
{"data":{"name":"a_mk"},"mark":{"type":"point","filled":true,"size":45,"opacity":1,"strokeWidth":1},"encoding":{"x":{"field":"t","type":"quantitative","axis":null},"y":{"field":"v","type":"quantitative","axis":null},"shape":{"field":"m","type":"nominal","scale":{"domain":["trig","trigo","T","gnd","corner"],"range":["triangle-down","triangle-down","triangle-right","triangle-right","M -1 -1 L 1 -1 L 1 1 Z"]},"legend":null},"fill":{"field":"m","type":"nominal","scale":{"domain":["trig","trigo","T","gnd","corner"],"range":["#f39c2a","#ffffff","#e8157f","#5b7cf0","#f39c2a"]},"legend":null},"stroke":{"field":"m","type":"nominal","scale":{"domain":["trig","trigo","T","gnd","corner"],"range":["#f39c2a","#f39c2a","#e8157f","#5b7cf0","#f39c2a"]},"legend":null}}}
],"resolve":{"scale":{"color":"independent","fill":"independent","stroke":"independent","shape":"independent"}}},
{"layer":[
{"data":{"name":"vgrid"},"mark":{"type":"rule","color":"#5c5c5c","strokeWidth":1.3},"encoding":{"x":{"field":"t","type":"quantitative","scale":{"domain":[-54.746,50],"nice":false,"zero":false},"axis":null},"y":{"datum":-4,"type":"quantitative","scale":{"domain":[-4.695,14.325],"nice":false,"zero":false},"axis":null},"y2":{"datum":4}}},
{"data":{"name":"hgrid"},"mark":{"type":"rule","color":"#5c5c5c","strokeWidth":1.3},"encoding":{"x":{"field":"t1","type":"quantitative","scale":{"domain":[-54.746,50],"nice":false,"zero":false},"axis":null},"x2":{"datum":50},"y":{"field":"v","type":"quantitative","scale":{"domain":[-4.695,14.325],"nice":false,"zero":false},"axis":null}}},
{"data":{"name":"ctv"},"mark":{"type":"rule","color":"#5c5c5c","strokeWidth":1},"encoding":{"x":{"datum":-0.42,"type":"quantitative","scale":{"domain":[-54.746,50],"nice":false,"zero":false},"axis":null},"x2":{"datum":0.42},"y":{"field":"v","type":"quantitative","scale":{"domain":[-4.695,14.325],"nice":false,"zero":false},"axis":null}}},
{"data":{"name":"cth"},"mark":{"type":"rule","color":"#5c5c5c","strokeWidth":1},"encoding":{"x":{"field":"t","type":"quantitative","scale":{"domain":[-54.746,50],"nice":false,"zero":false},"axis":null},"y":{"datum":-0.05,"type":"quantitative","scale":{"domain":[-4.695,14.325],"nice":false,"zero":false},"axis":null},"y2":{"datum":0.05}}},
{"data":{"name":"b_inner"},"mark":{"type":"rule","color":"#a8a8a8","strokeWidth":1},"encoding":{"x":{"field":"t1","type":"quantitative","axis":null},"x2":{"field":"t2"},"y":{"field":"v1","type":"quantitative","axis":null},"y2":{"field":"v2"}}},
{"data":{"name":"b_boxes"},"mark":{"type":"rect","fill":"transparent","strokeWidth":1.6},"encoding":{"x":{"field":"t1","type":"quantitative","axis":null},"x2":{"field":"t2"},"y":{"field":"v1","type":"quantitative","axis":null},"y2":{"field":"v2"},"stroke":{"field":"inset","type":"nominal","scale":{"domain":[1,2],"range":["#f8b4b4","#aef0f6"]},"legend":null}}},
{"data":{"name":"b_ilh"},"mark":{"type":"rule","color":"#e0157a","strokeWidth":4},"encoding":{"x":{"field":"t1","type":"quantitative","axis":null},"x2":{"field":"t2"},"y":{"field":"v","type":"quantitative","axis":null}}},
{"data":{"name":"b_ile"},"mark":{"type":"rule","color":"#e0157a","strokeWidth":1.2},"encoding":{"x":{"field":"t","type":"quantitative","axis":null},"y":{"field":"v1","type":"quantitative","axis":null},"y2":{"field":"v2"}}},
{"data":{"name":"b_gd"},"mark":{"type":"line","color":"#2e9e12","strokeWidth":2.6},"encoding":{"x":{"field":"t","type":"quantitative","axis":null},"y":{"field":"v","type":"quantitative","axis":null}}},
{"data":{"name":"b_bd"},"mark":{"type":"line","color":"#4a6ee0","strokeWidth":2.6},"encoding":{"x":{"field":"t","type":"quantitative","axis":null},"y":{"field":"v","type":"quantitative","axis":null}}},
{"data":{"name":"b_igd"},"mark":{"type":"line","color":"#3a9a1a","strokeWidth":1.8},"encoding":{"x":{"field":"t","type":"quantitative","axis":null},"y":{"field":"v","type":"quantitative","axis":null},"detail":{"field":"inset","type":"nominal"}}},
{"data":{"name":"b_ibd"},"mark":{"type":"line","color":"#4a6ee0","strokeWidth":1.8},"encoding":{"x":{"field":"t","type":"quantitative","axis":null},"y":{"field":"v","type":"quantitative","axis":null},"detail":{"field":"inset","type":"nominal"}}},
{"data":{"name":"b_bars"},"mark":{"type":"rule","color":"#111111","strokeWidth":2},"encoding":{"x":{"field":"t1","type":"quantitative","axis":null},"x2":{"field":"t2"},"y":{"field":"v1","type":"quantitative","axis":null},"y2":{"field":"v2"}}},
{"data":{"name":"b_lbl"},"mark":{"type":"text","font":"DejaVu Sans","fontWeight":"bold","fontSize":34,"align":"center","baseline":"middle","stroke":"#1a1a1a","strokeWidth":0.8},"encoding":{"x":{"field":"t","type":"quantitative","axis":null},"y":{"field":"v","type":"quantitative","axis":null},"text":{"field":"text"},"color":{"field":"ch","type":"nominal","scale":{"domain":["GD","BD"],"range":["#44dd14","#5070e4"]},"legend":null}}},
{"data":{"name":"b_ilbig"},"mark":{"type":"text","font":"DejaVu Sans","fontWeight":"bold","fontSize":28,"align":"left","baseline":"alphabetic","color":"#e8157f"},"encoding":{"x":{"field":"t","type":"quantitative","axis":null},"y":{"field":"v","type":"quantitative","axis":null},"text":{"field":"text"}}},
{"data":{"name":"b_ilsub"},"mark":{"type":"text","font":"DejaVu Sans","fontWeight":"bold","fontSize":17,"align":"left","baseline":"alphabetic","color":"#e8157f"},"encoding":{"x":{"field":"t","type":"quantitative","axis":null},"y":{"field":"v","type":"quantitative","axis":null},"text":{"field":"text"}}},
{"data":{"name":"b_tr"},"mark":{"type":"text","font":"DejaVu Sans","fontWeight":"bold","fontSize":18,"align":"center","baseline":"middle"},"encoding":{"x":{"field":"t","type":"quantitative","axis":null},"y":{"field":"v","type":"quantitative","axis":null},"text":{"field":"text"},"color":{"field":"ch","type":"nominal","scale":{"domain":["GD","BD"],"range":["#3cb814","#3d5cc8"]},"legend":null}}},
{"data":{"name":"b_rot"},"mark":{"type":"text","font":"DejaVu Sans","fontWeight":"bold","fontSize":18,"align":"center","baseline":"middle","angle":270},"encoding":{"x":{"field":"t","type":"quantitative","axis":null},"y":{"field":"v","type":"quantitative","axis":null},"text":{"field":"text"},"color":{"field":"ch","type":"nominal","scale":{"domain":["GD","BD"],"range":["#3cb814","#3d5cc8"]},"legend":null}}},
{"data":{"name":"b_tedge"},"mark":{"type":"text","font":"DejaVu Sans","fontWeight":"bold","fontSize":11.5,"align":"left","baseline":"middle","color":"#e8157f"},"encoding":{"x":{"field":"t","type":"quantitative","axis":null},"y":{"field":"v","type":"quantitative","axis":null},"text":{"field":"text"}}},
{"data":{"name":"b_head"},"mark":{"type":"text","font":"Liberation Sans","fontSize":12,"align":"left","baseline":"middle"},"encoding":{"x":{"field":"t","type":"quantitative","axis":null},"y":{"field":"v","type":"quantitative","axis":null},"text":{"field":"text"},"color":{"field":"c","type":"nominal","scale":{"domain":["1","2","3","4","x"],"range":["#f0a040","#66cc44","#7799ee","#ee3399","#444444"]},"legend":null}}},
{"data":{"name":"b_cap"},"mark":{"type":"text","font":"Liberation Serif","fontSize":16,"align":"center","baseline":"middle","color":"#000000"},"encoding":{"x":{"field":"t","type":"quantitative","axis":null},"y":{"field":"v","type":"quantitative","axis":null},"text":{"field":"text"}}},
{"data":{"name":"b_T"},"mark":{"type":"text","font":"DejaVu Sans","fontSize":10,"align":"center","baseline":"middle","color":"#e8157f"},"encoding":{"x":{"field":"t","type":"quantitative","axis":null},"y":{"field":"v","type":"quantitative","axis":null},"text":{"field":"text"}}},
{"data":{"name":"b_mk"},"mark":{"type":"point","filled":true,"size":45,"opacity":1,"strokeWidth":1},"encoding":{"x":{"field":"t","type":"quantitative","axis":null},"y":{"field":"v","type":"quantitative","axis":null},"shape":{"field":"m","type":"nominal","scale":{"domain":["trig","trigo","T","gnd","corner"],"range":["triangle-down","triangle-down","triangle-right","triangle-right","M -1 -1 L 1 -1 L 1 1 Z"]},"legend":null},"fill":{"field":"m","type":"nominal","scale":{"domain":["trig","trigo","T","gnd","corner"],"range":["#f39c2a","#ffffff","#e8157f","#5b7cf0","#f39c2a"]},"legend":null},"stroke":{"field":"m","type":"nominal","scale":{"domain":["trig","trigo","T","gnd","corner"],"range":["#f39c2a","#f39c2a","#e8157f","#5b7cf0","#f39c2a"]},"legend":null}}}
],"resolve":{"scale":{"color":"independent","fill":"independent","stroke":"independent","shape":"independent"}}}
],
"resolve":{"scale":{"y":"independent","color":"independent","fill":"independent","stroke":"independent","shape":"independent"}}
}
